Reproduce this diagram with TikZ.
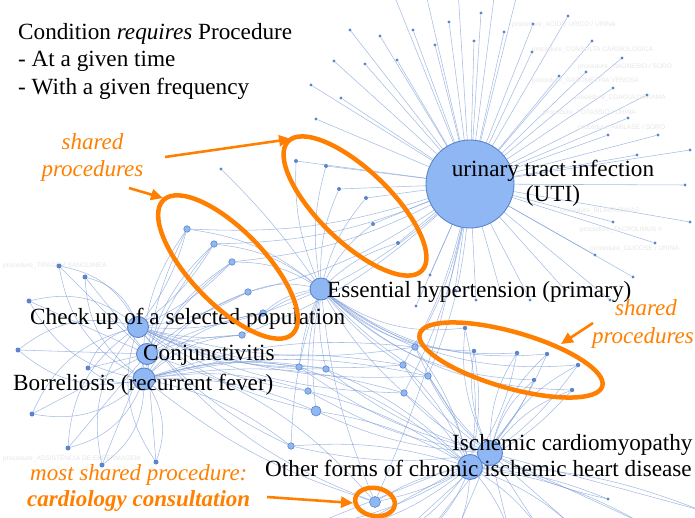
\documentclass[tikz,border=0pt]{standalone}
\usepackage{fontspec}
\setmainfont{Liberation Serif}
\newfontfamily\faintfont{Liberation Sans}
\usepackage{tikz}
\usetikzlibrary{arrows.meta,backgrounds}

\definecolor{nodeblue}{RGB}{142,183,243}
\definecolor{nodeedge}{RGB}{92,132,205}
\definecolor{linkblue}{RGB}{118,152,214}
\definecolor{hlorange}{RGB}{255,128,0}

\begin{document}
\begin{tikzpicture}[
    x=1pt, y=-1pt,
    font=\fontsize{23.2}{27}\selectfont,
    cond/.style={circle, draw=nodeedge, fill=nodeblue, line width=0.9pt, inner sep=0pt},
    proc/.style={circle, draw=nodeedge, fill=nodeblue, line width=0.6pt, inner sep=0pt, minimum size=6.5pt},
    leaf/.style={circle, fill=nodeedge, inner sep=0pt, minimum size=3.2pt},
    link/.style={draw=linkblue, line width=0.55pt, opacity=0.65},
    lbl/.style={anchor=base west, inner sep=0pt},
    mid/.style={anchor=base, inner sep=0pt},
    note/.style={text=hlorange, inner sep=0pt, font=\fontsize{23}{27}\selectfont\itshape},
    hl/.style={draw=hlorange, line width=4.5pt},
    callout/.style={draw=hlorange, line width=2.6pt, -{Triangle[length=12pt,width=11pt]}},
    faint/.style={text=black!10, anchor=west, inner sep=0pt, font=\faintfont\fontsize{6.6}{7}\selectfont}
]
\useasboundingbox (0,0) rectangle (695,518);

% conditions
\node[cond, minimum size=88pt] (uti) at (470,184) {};
\node[cond, minimum size=22pt] (hyp) at (321,289) {};
\node[cond, minimum size=21pt] (chk) at (138,327) {};
\node[cond, minimum size=21pt] (conj) at (147,354) {};
\node[cond, minimum size=22pt] (borr) at (144,379) {};
\node[cond, minimum size=25pt] (icm) at (490,453) {};
\node[cond, minimum size=25pt] (ocih) at (470,467) {};
\node[proc, minimum size=11pt] (card) at (375,502) {};

% procedures only for UTI
\foreach \x/\y [count=\i] in {316/119, 311/85, 341/98, 334/61, 350/30, 365/64, 380/36,
    397/60, 392/-10, 413/30, 425/-10, 435/45, 449/22, 458/-10, 474/41, 481/13, 495/-10,
    504/32, 518/-10, 533/24, 532/52, 559/76, 568/16, 586/72, 592/41, 613/88, 622/58,
    608/135, 628/118, 647/95, 658/135, 637/155, 690/150, 685/185, 690/222, 613/222,
    655/243, 595/255, 633/277, 610/300, 565/290, 530/300, 500/290, 476/300, 455/290,
    430/275, 416/306} {
  \node[leaf] (u\i) at (\x,\y) {};
  \begin{pgfonlayer}{background}
    \draw[link] (uti.center) -- (u\i);
  \end{pgfonlayer}
}

% shared procedures
\foreach \x/\y [count=\i] in {296/161, 326/166, 339/189, 366/198, 373/224, 398/243}
  \node[leaf, minimum size=4pt] (p\i) at (\x,\y) {};
\foreach \x/\y [count=\i] in {187/229, 214/244, 232/262, 248/292, 263/313, 242/335}
  \node[proc] (q\i) at (\x,\y) {};
\foreach \x/\y [count=\i] in {299/367, 326/369, 308/391, 316/411, 291/446, 415/347,
    403/365, 428/376, 404/393}
  \node[proc] (m\i) at (\x,\y) {};
\node[proc, minimum size=10pt] at (m4) {};
\foreach \x/\y [count=\i] in {465/328, 474/351, 517/353, 547/354, 578/365, 534/380, 572/390}
  \node[leaf, minimum size=4.5pt] (r\i) at (\x,\y) {};
\foreach \x/\y [count=\i] in {59/266, 85/277, 29/301, 18/350, 88/368, 32/414, 68/448,
    102/465, 156/462}
  \node[leaf, minimum size=5pt] (l\i) at (\x,\y) {};
\node[leaf] (s1) at (221,169) {};
\node[leaf] (b1) at (608,499) {};
\foreach \x/\y [count=\i] in {300/530, 350/530, 400/535, 430/530, 455/535, 510/535,
    540/530, 575/528, 640/522, 700/510}
  \node[leaf] (d\i) at (\x,\y) {};

\begin{scope}[on background layer]
  \node[faint] (f1) at (512,25) {procedure\_ACIDO URICO / URINA};
  \node[faint] (f2) at (532,50) {procedure\_CONSULTA CARDIOLOGICA};
  \node[faint] (f3) at (578,67) {procedure\_MAGNESIO / SORO};
  \node[faint] (f4) at (532,81) {procedure\_GASOMETRIA VENOSA};
  \node[faint] (f5) at (575,98) {procedure\_COAGULOGRAMA};
  \node[faint] (f6) at (543,113) {procedure\_POTASSIO / URINA};
  \node[faint] (f7) at (578,128) {procedure\_AMILASE / SORO};
  \node[faint] (f8) at (560,211) {procedure\_BILIRRUBINAS};
  \node[faint] (f9) at (580,230) {procedure\_TACROLIMUS II};
  \node[faint] (f10) at (590,249) {procedure\_GLICOSE / URINA};
  \node[faint] (f11) at (3,266) {procedure\_TIPAGEM SANGUINEA};
  \node[faint] (f12) at (3,458) {procedure\_ASSISTÊNCIA DE ENFERMAGEM};

  \foreach \i in {1,...,6} {
    \draw[link] (uti.center) -- (p\i);
    \draw[link] (p\i) to[bend right=12] (hyp);
  }
  \draw[link] (s1) to[bend left=5] (hyp);
  \foreach \i in {1,...,6} {
    \foreach \c/\b in {chk/10, conj/-8, borr/-18, hyp/15, uti/-10}
      \draw[link] (q\i) to[bend left=\b] (\c);
  }
  \foreach \i in {1,...,9} {
    \foreach \c/\b in {hyp/8, icm/-10, ocih/10, chk/12, borr/-12}
      \draw[link] (m\i) to[bend left=\b] (\c);
  }
  \foreach \i in {6,...,9}
    \draw[link] (m\i) to[bend left=-8] (uti);
  \foreach \i in {1,...,7} {
    \foreach \c/\b in {hyp/20, icm/-15, ocih/10}
      \draw[link] (r\i) to[bend left=\b] (\c);
  }
  \foreach \i in {1,...,9} {
    \foreach \c/\b in {chk/25, conj/0, borr/-25}
      \draw[link] (l\i) to[bend left=\b] (\c);
  }
  \foreach \c/\b in {icm/-10, ocih/10, hyp/8, chk/15, conj/-15, borr/10, uti/-6}
    \draw[link] (card) to[bend left=\b] (\c);
  \draw[link] (b1) to[bend left=8] (icm);
  \draw[link] (b1) to[bend right=8] (ocih);
  \foreach \i in {1,...,10} {
    \draw[link] (icm.center) -- (d\i);
    \draw[link] (ocih) to[bend left=10] (d\i);
  }
\end{scope}

% labels
\node[lbl] (t-cond) at (18,40) {Condition \textit{requires} Procedure};
\node[lbl] (t-time) at (18,67) {- At a given time};
\node[lbl] (t-freq) at (18,95) {- With a given frequency};
\node[mid] (t-uti) at (553,177) {urinary tract infection};
\node[mid] (t-uti2) at (553,202) {(UTI)};
\node[lbl] (t-hyp) at (327,297) {Essential hypertension (primary)};
\node[lbl] (t-chk) at (30,324) {Check up of a selected population};
\node[lbl] (t-conj) at (143,360) {Conjunctivitis};
\node[lbl] (t-borr) at (13,390) {Borreliosis (recurrent fever)};
\node[lbl] (t-icm) at (452,450) {Ischemic cardiomyopathy};
\node[lbl] (t-ocih) at (265,476) {Other forms of chronic ischemic heart disease};

% highlights
\draw[hl, rotate around={-44:(355,206)}] (355,206) ellipse [x radius=93pt, y radius=36pt];
\draw[hl, rotate around={-46:(228,267)}] (228,267) ellipse [x radius=93pt, y radius=37pt];
\draw[hl, rotate around={-16:(511,360)}] (511,360) ellipse [x radius=95pt, y radius=28pt];
\draw[hl, rotate around={-10:(375,502)}] (375,502) ellipse [x radius=20pt, y radius=14pt];

\node[note, anchor=base] (n-sh1) at (92.5,150) {shared};
\node[note, anchor=base] (n-pr1) at (92.5,177) {procedures};
\node[note, anchor=base] (n-sh2) at (646,315) {shared};
\node[note, anchor=base] (n-pr2) at (643,343) {procedures};
\node[note, anchor=base west] (n-most) at (30,480) {most shared procedure:};
\node[note, anchor=base west, font=\fontsize{23}{27}\selectfont\bfseries\itshape] (n-card) at (27,506) {cardiology consultation};

\coordinate (a1s) at (165,157); \coordinate (a1e) at (291,139);
\coordinate (a2s) at (129,188); \coordinate (a2e) at (163,198);
\coordinate (a3s) at (593,323); \coordinate (a3e) at (561,344);
\coordinate (a4s) at (267,497); \coordinate (a4e) at (353,503);
\draw[callout] (a1s) -- (a1e);
\draw[callout] (a2s) -- (a2e);
\draw[callout] (a3s) -- (a3e);
\draw[callout] (a4s) -- (a4e);
\end{tikzpicture}
\end{document}
